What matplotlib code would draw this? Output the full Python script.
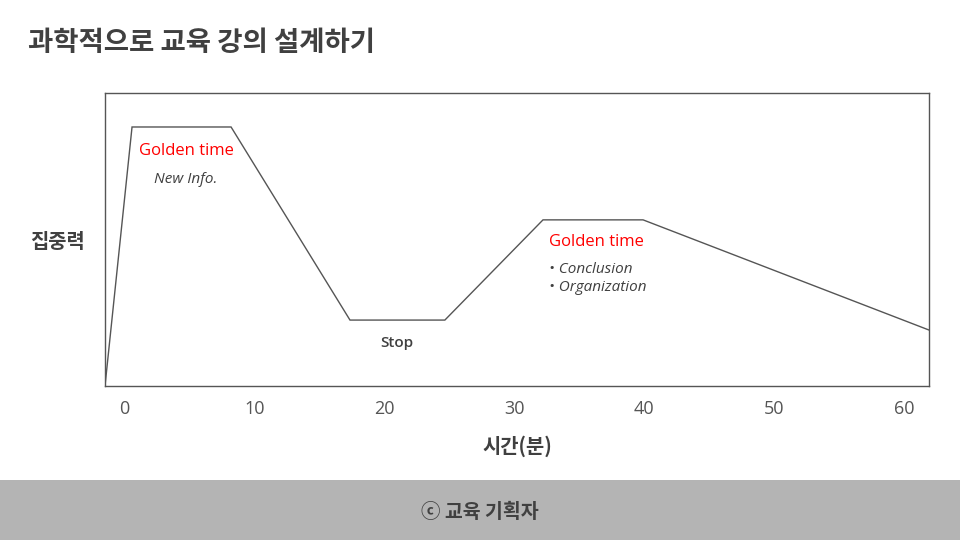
import matplotlib
matplotlib.use("Agg")
import matplotlib.pyplot as plt
from matplotlib.patches import Rectangle

plt.rcParams['font.family'] = ['Noto Sans CJK KR', 'DejaVu Sans']

# Attention curve over a 60-minute lecture
minutes = [-1.5, 0.58, 8.2, 17.35, 24.65, 32.2, 39.9, 61.9]
focus = [0, 88.4, 88.4, 22.5, 22.5, 56.7, 56.7, 19.1]
xticks = [0, 10, 20, 30, 40, 50, 60]

title = "과학적으로 교육 강의 설계하기"
ylabel = "집중력"
xlabel = "시간(분)"
footer = "ⓒ 교육 기획자"

fig = plt.figure(figsize=(9.6, 5.4), dpi=100)
fig.patch.set_facecolor('white')

# footer band
fig.patches.append(Rectangle((0, 0), 1, 60 / 540, transform=fig.transFigure,
                             facecolor='#b4b4b4', edgecolor='none', zorder=0))
fig.text(0.5, 1 - 512 / 540, footer, ha='center', va='center', fontsize=14,
         fontweight='bold', color='#404040',
         family=['Noto Sans CJK KR', 'DejaVu Sans'])

fig.text(28 / 960, 1 - 43 / 540, title, ha='left', va='center', fontsize=19.8,
         fontweight='bold', color='#404040')

ax = fig.add_axes([105 / 960, 1 - 386 / 540, 824 / 960, 293 / 540])
ax.plot(minutes, focus, color='#555555', lw=1.0, solid_joinstyle='miter')
ax.set_xlim(-1.5, 61.9)
ax.set_ylim(0, 100)
ax.set_xticks(xticks)
ax.set_xticklabels([str(t) for t in xticks], fontsize=13, color='#555555',
                   family='Open Sans')
ax.tick_params(axis='x', length=0, pad=10)
ax.set_yticks([])
for s in ax.spines.values():
    s.set_color('#555555')
    s.set_linewidth(1.0)

fig.text(57 / 960, 1 - 241 / 540, ylabel, ha='center', va='center', fontsize=14.3,
         fontweight='bold', color='#404040')
fig.text(517 / 960, 1 - 446 / 540, xlabel, ha='center', va='center', fontsize=14.3,
         fontweight='bold', color='#404040')

# annotations
ax.text(4.73, 80.3, "Golden time", ha='center', va='center', fontsize=12,
        color='#ff0000', family='Open Sans')
ax.text(4.7, 70.4, "New Info.", ha='center', va='center', fontsize=11,
        color='#404040', style='italic', family='Open Sans')
ax.text(20.96, 14.6, "Stop", ha='center', va='center', fontsize=11,
        color='#404040', family='Open Sans', fontweight='semibold')
ax.text(32.65, 49.0, "Golden time", ha='left', va='center', fontsize=12,
        color='#ff0000', family='Open Sans')
ax.text(32.65, 39.7, "• Conclusion", ha='left', va='center', fontsize=11,
        color='#404040', style='italic', family='Open Sans')
ax.text(32.65, 33.6, "• Organization", ha='left', va='center', fontsize=11,
        color='#404040', style='italic', family='Open Sans')

fig.savefig('out.png', dpi=100)
